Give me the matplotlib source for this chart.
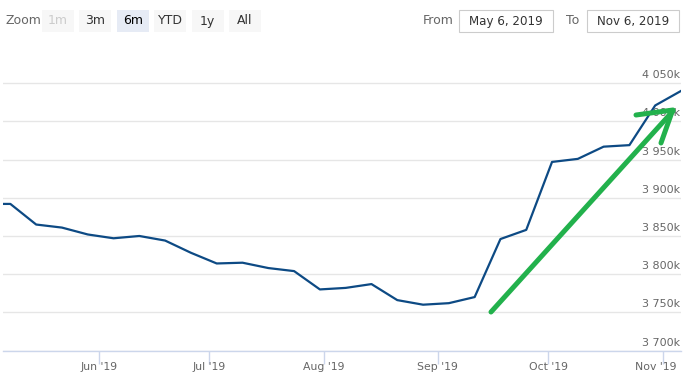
import matplotlib
matplotlib.use('Agg')

import numpy as np
import pandas as pd
import matplotlib.pyplot as plt
import matplotlib.dates as mdates
import matplotlib.transforms as mtransforms
from matplotlib.patches import Rectangle
from matplotlib.ticker import MultipleLocator

# --- datos (semanales, miércoles) ---
fechas = pd.date_range('2019-05-01', '2019-11-06', freq='7D')
valores = [3892, 3892, 3865, 3861, 3852, 3847, 3850, 3844, 3828, 3814,
           3815, 3808, 3804, 3780, 3782, 3787, 3766, 3760, 3762, 3770,
           3846, 3858, 3947, 3951, 3967, 3969, 4021, 4040]
valores = np.array(valores) * 1000

botones = ['1m', '3m', '6m', 'YTD', '1y', 'All']
desde = 'May 6, 2019'
hasta = 'Nov 6, 2019'

W, H = 685, 376
fig = plt.figure(figsize=(W / 100, H / 100), dpi=100)

def px(x, y):
    # pixeles de la imagen -> fraccion de figura
    return x / W, 1 - y / H

# area del grafico
left, right, top, bottom = 3, 681, 52, 350.5
ax = fig.add_axes([left / W, 1 - bottom / H, (right - left) / W, (bottom - top) / H])

ax.plot(fechas, valores, color='#0d4a84', lw=1.6, solid_joinstyle='round', zorder=3)
ax.set_xlim(pd.Timestamp('2019-05-06'), pd.Timestamp('2019-11-06'))
ax.set_ylim(3700000, 4091000)

for s in ['left', 'right', 'top']:
    ax.spines[s].set_visible(False)
ax.spines['bottom'].set_color('#ccd6eb')
ax.spines['bottom'].set_linewidth(1)

ax.yaxis.set_major_locator(MultipleLocator(50000))
ax.grid(axis='y', color='#e6e6e6', lw=1)
ax.set_axisbelow(True)
ax.tick_params(axis='y', length=0, labelleft=False)

for v in ax.get_yticks():
    if v < 3700000 or v > 4091000:
        continue
    miles = int(round(v / 1000))
    etiqueta = f'{miles:,}'.replace(',', ' ') + 'k'
    ax.annotate(etiqueta, xy=(1.0, v), xycoords=('axes fraction', 'data'),
                xytext=(-1, 3), textcoords='offset pixels',
                ha='right', va='bottom', fontsize=8, color='#666666', zorder=2)

ax.xaxis.set_major_locator(mdates.MonthLocator())
ax.xaxis.set_major_formatter(mdates.DateFormatter("%b '%y"))
ax.tick_params(axis='x', length=9, width=1, color='#ccd6eb', labelsize=7.8,
               labelcolor='#666666', pad=-1)
fig.canvas.draw()
# la ultima etiqueta se mete dentro del grafico, como en Highcharts
ultima = ax.get_xticklabels()[-1]
ultima.set_transform(ultima.get_transform() +
                     mtransforms.ScaledTranslation(-7 / 100, 0, fig.dpi_scale_trans))

# --- selector de rango ---
fig.text(*px(5, 21), 'Zoom', fontsize=9, color='#666666', va='center', ha='left')
for i, b in enumerate(botones):
    x0 = 42 + i * 37.4
    sel = b == '6m'
    fig.patches.append(Rectangle(px(x0, 32), 32 / W, 22 / H, transform=fig.transFigure,
                                 facecolor='#e6ebf5' if sel else '#f7f7f7',
                                 edgecolor='none'))
    fig.text(*px(x0 + 16, 21), b, fontsize=9, ha='center', va='center',
             color='#cccccc' if b == '1m' else ('#000000' if sel else '#333333'))

fig.text(*px(423, 21), 'From', fontsize=9, color='#666666', va='center', ha='left')
fig.patches.append(Rectangle(px(459, 32), 94 / W, 22 / H, transform=fig.transFigure,
                             facecolor='white', edgecolor='#cccccc', lw=0.8))
fig.text(*px(506, 21), desde, fontsize=8.6, color='#333333', va='center', ha='center')
fig.text(*px(566, 21), 'To', fontsize=9, color='#666666', va='center', ha='left')
fig.patches.append(Rectangle(px(587, 32), 92 / W, 22 / H, transform=fig.transFigure,
                             facecolor='white', edgecolor='#cccccc', lw=0.8))
fig.text(*px(633, 21), hasta, fontsize=8.6, color='#333333', va='center', ha='center')

# --- flecha verde dibujada a mano ---
verde = '#22b14c'
trazos = [[(491, 312), (673, 111)],
          [(636, 115), (673, 110)],
          [(661, 143), (672, 112)]]
for t in trazos:
    xs = [p[0] / W for p in t]
    ys = [1 - p[1] / H for p in t]
    fig.add_artist(plt.Line2D(xs, ys, transform=fig.transFigure, color=verde,
                              lw=3.6, solid_capstyle='round'))

fig.savefig('out.png', dpi=100)
